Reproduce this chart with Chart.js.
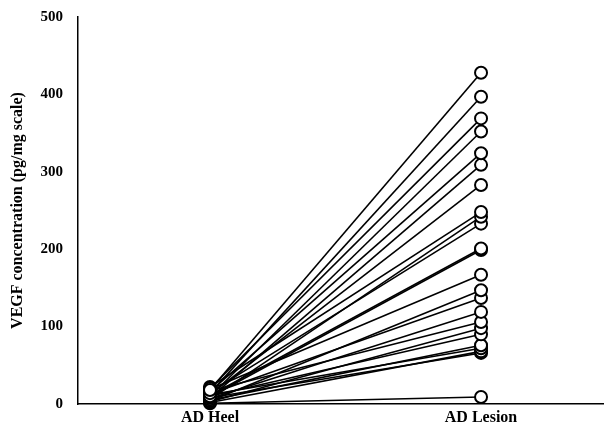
<!DOCTYPE html>
<html>
<head>
<meta charset="utf-8">
<script src="https://cdn.jsdelivr.net/npm/chart.js@4"></script>
<style>
  html, body { margin: 0; padding: 0; background: #fff; }
  #wrap { width: 615px; height: 433px; }
</style>
</head>
<body>
<div id="wrap"><canvas id="chart"></canvas></div>
<script>
const categories = ['AD Heel', 'AD Lesion'];
const heelValues = [18, 14, 20, 10, 16, 8, 12, 22, 6, 15, 11, 9, 19, 4, 13, 7, 17, 3, 10, 5, 12, 2, 8, 1];
const lesionValues = [428, 397, 369, 352, 324, 309, 283, 248, 242, 233, 201, 199, 167, 147, 137, 119, 106, 98, 90, 76, 72, 68, 66, 9];
const yTicks = [0, 100, 200, 300, 400, 500];

const datasets = lesionValues.map((v, i) => ({
  data: [{ x: 0, y: heelValues[i] }, { x: 1, y: v }],
  borderColor: '#000',
  borderWidth: 1.6,
  pointRadius: 6,
  pointBorderWidth: 2,
  pointBorderColor: '#000',
  pointBackgroundColor: '#fff',
  clip: false
}));

const font = { family: '"Liberation Serif", "Times New Roman", serif', weight: 'bold', size: 15 };

new Chart(document.getElementById('chart'), {
  type: 'line',
  data: { datasets },
  options: {
    responsive: true,
    maintainAspectRatio: false,
    animation: false,
    layout: { padding: { top: 17, right: 12, left: 0, bottom: 0 } },
    plugins: { legend: { display: false }, tooltip: { enabled: false } },
    scales: {
      x: {
        type: 'linear',
        min: -0.487,
        max: 1.45,
        afterBuildTicks: s => { s.ticks = [{ value: 0 }, { value: 1 }]; },
        afterFit: s => { s.height = 29; s.paddingLeft = 0; s.paddingRight = 0; },
        ticks: {
          color: '#000',
          font: { ...font, size: 16 },
          padding: 4,
          callback: v => categories[v]
        },
        grid: { display: false, drawTicks: false },
        border: { color: '#000', width: 1.5 }
      },
      y: {
        min: 0,
        max: 500,
        afterBuildTicks: s => { s.ticks = yTicks.map(v => ({ value: v })); },
        afterFit: s => { s.width = 78; s.paddingTop = 0; s.paddingBottom = 0; },
        ticks: { color: '#000', font, padding: 11 },
        grid: { display: false, drawTicks: true, tickLength: 4, tickColor: '#000' },
        border: { color: '#000', width: 1.5 },
        title: {
          display: true,
          text: 'VEGF concentration (pg/mg scale)',
          color: '#000',
          font: { ...font, size: 16 },
          padding: { top: 8, bottom: 6 }
        }
      }
    }
  }
});
</script>
</body>
</html>
